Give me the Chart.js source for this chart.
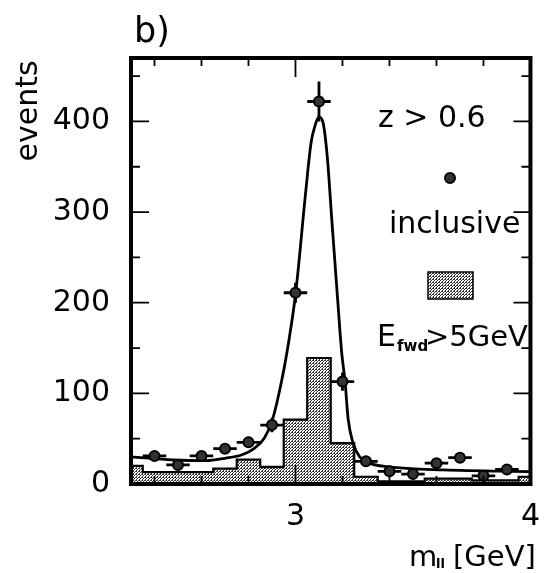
<!DOCTYPE html>
<html>
<head>
<meta charset="utf-8">
<script src="https://cdn.jsdelivr.net/npm/chart.js@4.4.1/dist/chart.umd.min.js"></script>
<style>
  html, body { margin: 0; padding: 0; background: #fff; }
  canvas { display: block; }
</style>
</head>
<body>
<canvas id="massChart" width="555" height="573"></canvas>
<script>
// inclusive sample, z > 0.6 (bin centres in GeV)
const massBins = [2.4, 2.5, 2.6, 2.7, 2.8, 2.9, 3.0, 3.1, 3.2, 3.3, 3.4, 3.5, 3.6, 3.7, 3.8, 3.9];
const inclusiveEvents = [31, 21, 31, 39, 46, 65, 211, 422, 113, 25, 14, 11, 23, 29, 9, 16];
const inclusiveErr = [5, 5, 5, 6, 6, 8, 11, 22, 10, 5, 4, 4, 5, 5, 3, 4];
const binHalfWidth = 0.05;

// events with E_fwd > 5 GeV
const fwdBins = [2.3, 2.4, 2.5, 2.6, 2.7, 2.8, 2.9, 3.0, 3.1, 3.2, 3.3, 3.4, 3.5, 3.6, 3.7, 3.8, 3.9, 4.0];
const fwdEvents = [20, 13, 13, 13, 17, 27, 19, 71, 139, 45, 8, 3, 3, 6, 6, 4, 4, 8];

// fitted line shape
const fitMass = [2.30, 2.48, 2.62, 2.70, 2.77, 2.825, 2.867, 2.901, 2.942, 2.973, 3.001, 3.043, 3.066, 3.084, 3.100,
                 3.117, 3.135, 3.155, 3.179, 3.197, 3.211, 3.224, 3.245, 3.273, 3.314, 3.396, 3.63, 4.0];
const fitEvents = [30, 26.5, 25.7, 28.4, 32, 39.4, 50.4, 70, 115, 160, 211, 321, 376, 396, 405,
                   399, 362, 290, 205, 144, 113, 72, 45, 30, 23, 19, 15.5, 13.6];

const xTicks = [3, 4];
const xMinorTicks = [2.4, 2.6, 2.8, 3.2, 3.4, 3.6, 3.8];
const yTicks = [0, 100, 200, 300, 400];
const yMinorTicks = [50, 150, 250, 350, 450];

const FONT = '"DejaVu Sans", sans-serif';

function stipple() {
  const c = document.createElement('canvas');
  c.width = 3; c.height = 3;
  const g = c.getContext('2d');
  g.fillStyle = '#fff';
  g.fillRect(0, 0, 3, 3);
  g.fillStyle = '#333';
  g.fillRect(0, 0, 2, 1);
  g.fillRect(1, 2, 1, 1);
  g.fillRect(2, 1, 1, 1);
  return g.createPattern(c, 'repeat');
}
const dots = stipple();

const errorBars = {
  id: 'errorBars',
  beforeDatasetDraw(chart, args) {
    if (args.index !== 0) return;
    const { ctx, scales: { x, y } } = chart;
    ctx.save();
    ctx.strokeStyle = '#000';
    ctx.lineWidth = 2.8;
    massBins.forEach((m, i) => {
      const v = inclusiveEvents[i], e = inclusiveErr[i];
      const px = x.getPixelForValue(m), py = y.getPixelForValue(v);
      ctx.beginPath();
      ctx.moveTo(x.getPixelForValue(m - binHalfWidth), py);
      ctx.lineTo(x.getPixelForValue(m + binHalfWidth), py);
      ctx.moveTo(px, y.getPixelForValue(v - e));
      ctx.lineTo(px, y.getPixelForValue(v + e));
      ctx.stroke();
    });
    ctx.restore();
  }
};

// frame, inward ticks, titles and the legend
const decorations = {
  id: 'decorations',
  afterDatasetsDraw(chart) {
    const { ctx, chartArea: a, scales: { x, y } } = chart;
    ctx.save();
    ctx.strokeStyle = '#000';
    ctx.lineWidth = 1.8;
    ctx.beginPath();
    yTicks.forEach(v => {
      const py = y.getPixelForValue(v);
      if (v === 0) return;
      ctx.moveTo(a.left, py); ctx.lineTo(a.left + 18, py);
      ctx.moveTo(a.right, py); ctx.lineTo(a.right - 17, py);
    });
    yMinorTicks.forEach(v => {
      const py = y.getPixelForValue(v);
      ctx.moveTo(a.left, py); ctx.lineTo(a.left + 9, py);
      ctx.moveTo(a.right, py); ctx.lineTo(a.right - 9, py);
    });
    xMinorTicks.forEach(v => {
      const px = x.getPixelForValue(v);
      ctx.moveTo(px, a.top); ctx.lineTo(px, a.top + 8);
      ctx.moveTo(px, a.bottom); ctx.lineTo(px, a.bottom - 8);
    });
    const p3 = x.getPixelForValue(3);
    ctx.moveTo(p3, a.top); ctx.lineTo(p3, a.top + 19);
    ctx.moveTo(p3, a.bottom); ctx.lineTo(p3, a.bottom - 19);
    ctx.stroke();

    ctx.lineWidth = 4;
    ctx.strokeRect(a.left, a.top, a.right - a.left, a.bottom - a.top);
    ctx.restore();
  },
  afterDraw(chart) {
    const { ctx } = chart;
    ctx.save();
    ctx.fillStyle = '#000';
    ctx.textBaseline = 'alphabetic';

    ctx.font = '35px ' + FONT;
    ctx.textAlign = 'left';
    ctx.fillText('b)', 134, 42);

    ctx.save();
    ctx.translate(37, 111);
    ctx.rotate(-Math.PI / 2);
    ctx.textAlign = 'center';
    ctx.font = '30px ' + FONT;
    ctx.fillText('events', 0, 0);
    ctx.restore();

    // m_ll [GeV]
    ctx.textAlign = 'left';
    ctx.font = '29px ' + FONT;
    ctx.fillText('m', 409, 566);
    ctx.font = 'bold 13px ' + FONT;
    ctx.fillText('ll', 436, 568);
    ctx.font = '29px ' + FONT;
    ctx.fillText('[GeV]', 453, 566);

    // legend
    ctx.font = '30px ' + FONT;
    ctx.fillText('z > 0.6', 378, 127);
    ctx.fillText('inclusive', 389, 233);

    ctx.beginPath();
    ctx.arc(450, 178, 5, 0, Math.PI * 2);
    ctx.fillStyle = '#333';
    ctx.fill();
    ctx.lineWidth = 2;
    ctx.strokeStyle = '#000';
    ctx.stroke();

    ctx.fillStyle = dots;
    ctx.fillRect(428, 272, 45, 27);
    ctx.lineWidth = 1.5;
    ctx.strokeRect(428, 272, 45, 27);

    ctx.fillStyle = '#000';
    ctx.font = '30px ' + FONT;
    ctx.fillText('E', 377, 346);
    ctx.font = 'bold 15px ' + FONT;
    ctx.fillText('fwd', 397, 351);
    ctx.font = '29px ' + FONT;
    ctx.fillText('>5GeV', 425, 346);
    ctx.restore();
  }
};

new Chart(document.getElementById('massChart'), {
  type: 'line',
  data: {
    datasets: [
      {
        label: 'inclusive',
        type: 'scatter',
        order: 0,
        data: massBins.map((m, i) => ({ x: m, y: inclusiveEvents[i] })),
        showLine: false,
        pointRadius: 5,
        pointBackgroundColor: '#333',
        pointBorderColor: '#000',
        pointBorderWidth: 2
      },
      {
        label: 'fit',
        order: 1,
        data: fitMass.map((m, i) => ({ x: m, y: fitEvents[i] })),
        borderColor: '#000',
        borderWidth: 2.8,
        pointRadius: 0,
        fill: false,
        cubicInterpolationMode: 'monotone'
      },
      {
        label: 'E_fwd > 5GeV',
        order: 2,
        data: fwdBins.map((m, i) => ({ x: m, y: fwdEvents[i] })),
        stepped: 'middle',
        borderColor: '#000',
        borderWidth: 2.2,
        backgroundColor: dots,
        fill: 'origin',
        pointRadius: 0
      }
    ]
  },
  options: {
    responsive: false,
    animation: false,
    devicePixelRatio: 1,
    layout: { padding: { top: 58, right: 12, left: 0, bottom: 0 } },
    plugins: { legend: { display: false }, tooltip: { enabled: false } },
    scales: {
      x: {
        type: 'linear',
        min: 2.3,
        max: 4.0,
        afterFit: s => { s.height = 89; },
        afterBuildTicks: s => { s.ticks = xTicks.map(v => ({ value: v })); },
        grid: { display: false, drawTicks: false },
        border: { display: false },
        ticks: { font: { family: FONT, size: 30 }, color: '#000', padding: 15, maxRotation: 0 }
      },
      y: {
        min: 0,
        max: 470,
        afterFit: s => { s.width = 131; },
        afterBuildTicks: s => { s.ticks = yTicks.map(v => ({ value: v })); },
        grid: { display: false, drawTicks: false },
        border: { display: false },
        ticks: { font: { family: FONT, size: 30 }, color: '#000', padding: 21 }
      }
    }
  },
  plugins: [errorBars, decorations]
});
</script>
</body>
</html>
